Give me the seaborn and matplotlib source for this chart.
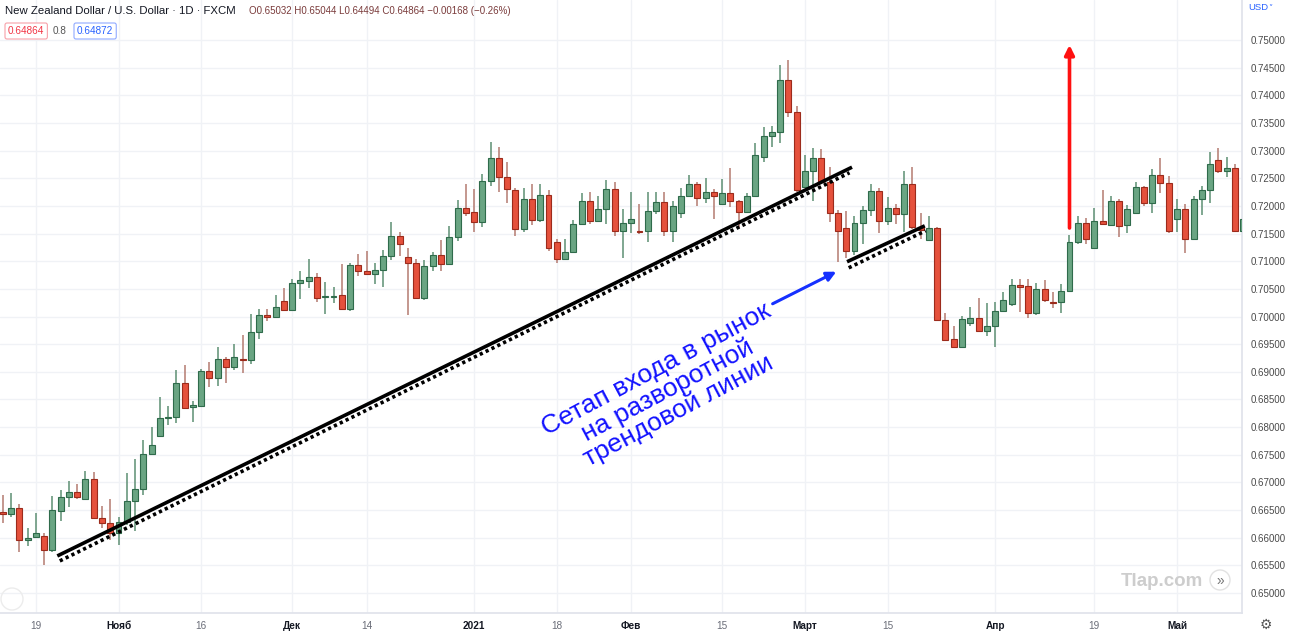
import numpy as np
import pandas as pd
import matplotlib
matplotlib.use("Agg")
import matplotlib.pyplot as plt
from matplotlib.patches import Ellipse
import seaborn as sns

# ---------------- data (NZD/USD daily candles) ----------------
opens = [0.6646, 0.6643, 0.6654, 0.6596, 0.6602, 0.6603, 0.6577, 0.6649, 0.6673, 0.6682,
         0.6670, 0.6706, 0.6635, 0.6626, 0.6608, 0.6629, 0.6667, 0.6688, 0.6751, 0.6784,
         0.6817, 0.6819, 0.6879, 0.6836, 0.6839, 0.6902, 0.6889, 0.6923, 0.6908, 0.6924,
         0.6921, 0.6972, 0.7002, 0.6999, 0.7028, 0.7011, 0.7060, 0.7065, 0.7072, 0.7035,
         0.7035, 0.7039, 0.7013, 0.7094, 0.7082, 0.7076, 0.7084, 0.7109, 0.7146, 0.7108,
         0.7096, 0.7034, 0.7091, 0.7111, 0.7095, 0.7144, 0.7197, 0.7189, 0.7171, 0.7245,
         0.7287, 0.7252, 0.7228, 0.7159, 0.7212, 0.7175, 0.7219, 0.7135, 0.7104, 0.7116,
         0.7168, 0.7209, 0.7173, 0.7194, 0.7230, 0.7155, 0.7169, 0.7155, 0.7155, 0.7191,
         0.7207, 0.7155, 0.7187, 0.7218, 0.7240, 0.7214, 0.7226, 0.7203, 0.7224, 0.7208,
         0.7189, 0.7218, 0.7288, 0.7326, 0.7334, 0.7428, 0.7369, 0.7234, 0.7264, 0.7286,
         0.7244, 0.7187, 0.7160, 0.7119, 0.7169, 0.7193, 0.7227, 0.7173, 0.7196, 0.7185,
         0.7239, 0.7161, 0.7138, 0.7160, 0.6994, 0.6959, 0.6944, 0.6989, 0.6997, 0.6974,
         0.6983, 0.7010, 0.7022, 0.7057, 0.7055, 0.7006, 0.7050, 0.7027, 0.7027, 0.7046,
         0.7135, 0.7169, 0.7123, 0.7173, 0.7166, 0.7208, 0.7166, 0.7187, 0.7234, 0.7206,
         0.7255, 0.7241, 0.7176, 0.7194, 0.7140, 0.7213, 0.7228, 0.7283, 0.7263, 0.7268,
         0.7155]
highs = [0.6677, 0.6680, 0.6661, 0.6617, 0.6645, 0.6609, 0.6676, 0.6686, 0.6703, 0.6697,
         0.6721, 0.6718, 0.6657, 0.6670, 0.6638, 0.6717, 0.6742, 0.6777, 0.6800, 0.6854,
         0.6839, 0.6903, 0.6913, 0.6847, 0.6905, 0.6917, 0.6944, 0.6927, 0.6950, 0.6967,
         0.7005, 0.7014, 0.7013, 0.7039, 0.7051, 0.7067, 0.7083, 0.7104, 0.7078, 0.7063,
         0.7053, 0.7095, 0.7097, 0.7113, 0.7119, 0.7097, 0.7120, 0.7170, 0.7153, 0.7123,
         0.7104, 0.7103, 0.7117, 0.7138, 0.7164, 0.7211, 0.7240, 0.7230, 0.7258, 0.7315,
         0.7306, 0.7280, 0.7232, 0.7232, 0.7240, 0.7240, 0.7229, 0.7140, 0.7141, 0.7175,
         0.7223, 0.7225, 0.7217, 0.7247, 0.7244, 0.7194, 0.7225, 0.7203, 0.7226, 0.7226,
         0.7226, 0.7208, 0.7232, 0.7255, 0.7244, 0.7250, 0.7230, 0.7248, 0.7269, 0.7211,
         0.7224, 0.7314, 0.7342, 0.7345, 0.7455, 0.7464, 0.7381, 0.7292, 0.7305, 0.7303,
         0.7271, 0.7193, 0.7190, 0.7181, 0.7199, 0.7240, 0.7233, 0.7216, 0.7203, 0.7264,
         0.7270, 0.7188, 0.7182, 0.7162, 0.7007, 0.6983, 0.7001, 0.7018, 0.7033, 0.7024,
         0.7027, 0.7045, 0.7067, 0.7067, 0.7067, 0.7060, 0.7066, 0.7045, 0.7059, 0.7147,
         0.7181, 0.7178, 0.7197, 0.7229, 0.7218, 0.7212, 0.7202, 0.7244, 0.7236, 0.7266,
         0.7286, 0.7254, 0.7212, 0.7203, 0.7217, 0.7236, 0.7298, 0.7304, 0.7289, 0.7276,
         0.7180]
lows = [0.6627, 0.6638, 0.6575, 0.6585, 0.6599, 0.6551, 0.6575, 0.6631, 0.6656, 0.6670,
        0.6668, 0.6633, 0.6617, 0.6596, 0.6587, 0.6623, 0.6613, 0.6677, 0.6750, 0.6783,
        0.6803, 0.6808, 0.6834, 0.6810, 0.6837, 0.6873, 0.6874, 0.6879, 0.6903, 0.6897,
        0.6914, 0.6959, 0.6992, 0.6998, 0.7010, 0.7010, 0.7031, 0.7051, 0.7027, 0.7005,
        0.7024, 0.7011, 0.7010, 0.7073, 0.7075, 0.7059, 0.7053, 0.7102, 0.7109, 0.7002,
        0.7031, 0.7029, 0.7083, 0.7083, 0.7093, 0.7137, 0.7181, 0.7152, 0.7162, 0.7236,
        0.7225, 0.7205, 0.7146, 0.7153, 0.7166, 0.7171, 0.7119, 0.7096, 0.7102, 0.7114,
        0.7167, 0.7167, 0.7171, 0.7167, 0.7146, 0.7105, 0.7151, 0.7149, 0.7135, 0.7185,
        0.7146, 0.7135, 0.7178, 0.7216, 0.7199, 0.7205, 0.7176, 0.7202, 0.7198, 0.7160,
        0.7187, 0.7217, 0.7280, 0.7307, 0.7314, 0.7360, 0.7226, 0.7232, 0.7209, 0.7243,
        0.7171, 0.7099, 0.7105, 0.7111, 0.7132, 0.7181, 0.7151, 0.7166, 0.7167, 0.7153,
        0.7158, 0.7141, 0.7137, 0.6991, 0.6955, 0.6943, 0.6943, 0.6983, 0.6973, 0.6964,
        0.6945, 0.7009, 0.7019, 0.7009, 0.6997, 0.7003, 0.7027, 0.7015, 0.7006, 0.7044,
        0.7132, 0.7131, 0.7122, 0.7166, 0.7164, 0.7144, 0.7151, 0.7185, 0.7200, 0.7188,
        0.7223, 0.7151, 0.7153, 0.7115, 0.7139, 0.7184, 0.7206, 0.7260, 0.7252, 0.7153,
        0.7150]
closes = [0.6643, 0.6654, 0.6596, 0.6600, 0.6608, 0.6577, 0.6650, 0.6673, 0.6682, 0.6673,
          0.6706, 0.6635, 0.6626, 0.6608, 0.6629, 0.6667, 0.6688, 0.6751, 0.6768, 0.6817,
          0.6819, 0.6879, 0.6835, 0.6840, 0.6902, 0.6889, 0.6923, 0.6908, 0.6926, 0.6922,
          0.6972, 0.7002, 0.6999, 0.7017, 0.7011, 0.7060, 0.7066, 0.7072, 0.7034, 0.7036,
          0.7036, 0.7013, 0.7094, 0.7082, 0.7076, 0.7084, 0.7109, 0.7146, 0.7132, 0.7096,
          0.7034, 0.7091, 0.7111, 0.7095, 0.7144, 0.7197, 0.7187, 0.7171, 0.7245, 0.7287,
          0.7252, 0.7231, 0.7159, 0.7212, 0.7175, 0.7219, 0.7124, 0.7104, 0.7116, 0.7168,
          0.7209, 0.7173, 0.7194, 0.7230, 0.7155, 0.7169, 0.7176, 0.7152, 0.7191, 0.7207,
          0.7155, 0.7199, 0.7218, 0.7240, 0.7214, 0.7226, 0.7217, 0.7224, 0.7208, 0.7189,
          0.7218, 0.7292, 0.7326, 0.7334, 0.7428, 0.7369, 0.7228, 0.7264, 0.7286, 0.7244,
          0.7187, 0.7155, 0.7119, 0.7169, 0.7193, 0.7227, 0.7173, 0.7196, 0.7185, 0.7239,
          0.7161, 0.7156, 0.7160, 0.6994, 0.6958, 0.6944, 0.6995, 0.6997, 0.6974, 0.6983,
          0.7010, 0.7029, 0.7057, 0.7054, 0.7006, 0.7050, 0.7029, 0.7025, 0.7046, 0.7135,
          0.7169, 0.7141, 0.7173, 0.7167, 0.7208, 0.7164, 0.7194, 0.7234, 0.7206, 0.7255,
          0.7241, 0.7155, 0.7194, 0.7140, 0.7213, 0.7228, 0.7276, 0.7263, 0.7268, 0.7155,
          0.7177]

tick_index = [4, 14, 24, 35, 44, 57, 67, 76, 87, 97, 107, 120, 132, 142]
tick_labels = ["19", "Нояб", "16", "Дек", "14", "2021", "18", "Фев", "15", "Март", "15", "Апр", "19", "Май"]
tick_major = [False, True, False, True, False, True, False, True, False, True, False, True, False, True]

price_levels = [round(0.650 + 0.005 * k, 3) for k in range(21)]

# annotation geometry (candle index, price)
trend_main = [(6.6, 0.6567), (102.7, 0.7270)]
trend_main_dots = [(6.9, 0.6558), (102.4, 0.7260)]
trend_short = [(102.1, 0.7099), (111.5, 0.7164)]
trend_short_dots = [(102.3, 0.7088), (111.6, 0.7155)]
blue_arrow = [(93.1, 0.7023), (100.8, 0.7081)]
red_arrow = [(129, 0.7160), (129, 0.7491)]
note_text = "Сетап входа в рынок\nна разворотной\nтрендовой линии"
note_pos = (80.4, 0.6866)

df = pd.DataFrame({"open": opens, "high": highs, "low": lows, "close": closes})
df["idx"] = np.arange(len(df))
df["up"] = df["close"] >= df["open"]

# ---------------- style ----------------
sns.set_theme(style="white")
plt.rcParams["font.family"] = ["Liberation Sans", "DejaVu Sans"]

W, H = 1290, 637
fig = plt.figure(figsize=(W / 100, H / 100), dpi=100)
ax_bottom = 613
ax = fig.add_axes([0, 1 - ax_bottom / H, 1242 / W, ax_bottom / H])

px_per_unit = 5530.0
ymax = 0.75 + 40 / px_per_unit
ymin = 0.75 - (ax_bottom - 40) / px_per_unit
ax.set_ylim(ymin, ymax)
ax.set_xlim(-0.33, 149.86)

# grid
for p in price_levels:
    ax.axhline(p, color="#f0f2f6", lw=1, zorder=0)
for t in tick_index:
    ax.axvline(t, color="#f0f2f6", lw=1, zorder=0)

# candles
up_fill, up_edge, up_wick = "#6aa583", "#2f6b4b", "#5d8f73"
dn_fill, dn_edge, dn_wick = "#e5513c", "#9c2b1c", "#b47a70"

for up, fill, edge, wick in [(True, up_fill, up_edge, up_wick), (False, dn_fill, dn_edge, dn_wick)]:
    d = df[df["up"] == up]
    ax.vlines(d["idx"], d["low"], d["high"], color=wick, lw=1.1, zorder=2)
    body_low = np.minimum(d["open"], d["close"])
    body_h = np.maximum(np.abs(d["close"] - d["open"]), 0.00012)
    ax.bar(d["idx"], body_h, bottom=body_low, width=0.72, color=fill,
           edgecolor=edge, linewidth=0.8, zorder=3)

# trend lines
def seg(pts, **kw):
    ax.plot([pts[0][0], pts[1][0]], [pts[0][1], pts[1][1]], **kw)

seg(trend_main, color="black", lw=2.6, solid_capstyle="butt", zorder=5)
seg(trend_main_dots, color="black", lw=2.6, linestyle=(0, (0.9, 0.9)), zorder=5)
seg(trend_short, color="black", lw=2.6, solid_capstyle="butt", zorder=5)
seg(trend_short_dots, color="black", lw=2.6, linestyle=(0, (0.9, 0.9)), zorder=5)

ax.annotate("", xy=blue_arrow[1], xytext=blue_arrow[0],
            arrowprops=dict(arrowstyle="-|>", color="#1530ff", lw=2.2, mutation_scale=14,
                            shrinkA=0, shrinkB=0), zorder=6)
ax.annotate("", xy=red_arrow[1], xytext=red_arrow[0],
            arrowprops=dict(arrowstyle="-|>", color="#ff1010", lw=2.6, mutation_scale=14,
                            shrinkA=0, shrinkB=0), zorder=6)

ax.text(note_pos[0], note_pos[1], note_text, rotation=28, rotation_mode="anchor",
        ha="center", va="center", multialignment="center", fontsize=19,
        color="#1212ff", linespacing=0.95, zorder=6)

# axes / ticks
for s in ["top", "left"]:
    ax.spines[s].set_visible(False)
ax.spines["right"].set_color("#e0e3eb")
ax.spines["bottom"].set_color("#e0e3eb")
ax.yaxis.tick_right()
ax.set_yticks(price_levels)
ax.set_yticklabels([f"{p:.5f}" for p in price_levels])
ax.tick_params(axis="y", length=0, pad=6, labelsize=7.0, labelcolor="#4a4a4a")
ax.set_xticks(tick_index)
ax.set_xticklabels(tick_labels)
ax.tick_params(axis="x", length=0, pad=6, labelsize=7.2)
for lab, major in zip(ax.get_xticklabels(), tick_major):
    lab.set_color("#131722" if major else "#6a6d78")
    if major:
        lab.set_fontweight("bold")
ax.grid(False)

# header
fig.text(5 / W, 1 - 11 / H, "New Zealand Dollar / U.S. Dollar · 1D · FXCM", fontsize=8.2,
         color="#131722", va="center", ha="left")
fig.text(249 / W, 1 - 11 / H, "O0.65032 H0.65044 L0.64494 C0.64864 −0.00168 (−0.26%)",
         fontsize=7.0, color="#7a3b3b", va="center", ha="left",
         family=["Liberation Sans", "DejaVu Sans"])
fig.text(8 / W, 1 - 31 / H, "0.64864", fontsize=7.2, color="#f23645", va="center", ha="left",
         bbox=dict(boxstyle="round,pad=0.3,rounding_size=0.2", fc="white", ec="#f7a0a8", lw=0.8))
fig.text(53 / W, 1 - 31 / H, "0.8", fontsize=7.2, color="#555", va="center", ha="left")
fig.text(77 / W, 1 - 31 / H, "0.64872", fontsize=7.2, color="#2962ff", va="center", ha="left",
         bbox=dict(boxstyle="round,pad=0.3,rounding_size=0.2", fc="white", ec="#90aaff", lw=0.8))

# price axis header and gear
fig.text(1248 / W, 1 - 8 / H, "USD", fontsize=6.8, color="#2962ff", va="center", ha="left")
fig.text(1268 / W, 1 - 8 / H, "˅", fontsize=6, color="#2962ff", va="center", ha="left",
         family=["DejaVu Sans"])
fig.text(1266 / W, 1 - 625 / H, "⚙", fontsize=10, color="#555", va="center", ha="center",
         family=["DejaVu Sans"])

# watermark
fig.text(1162 / W, 1 - 581 / H, "Tlap.com", fontsize=13.5, color="#cdcdcd", va="center",
         ha="center", fontweight="bold")
fig.patches.append(Ellipse((1220 / W, 1 - 580 / H), 20 / W, 20 / H, transform=fig.transFigure,
                           fc="white", ec="#e2e2e2", lw=1))
fig.text(1220 / W, 1 - 581 / H, "»", fontsize=10, color="#777", va="center", ha="center")
fig.patches.append(Ellipse((12 / W, 1 - 599 / H), 22 / W, 22 / H, transform=fig.transFigure,
                           fc="none", ec="#ececec", lw=1))

fig.savefig("out.png", dpi=100)
